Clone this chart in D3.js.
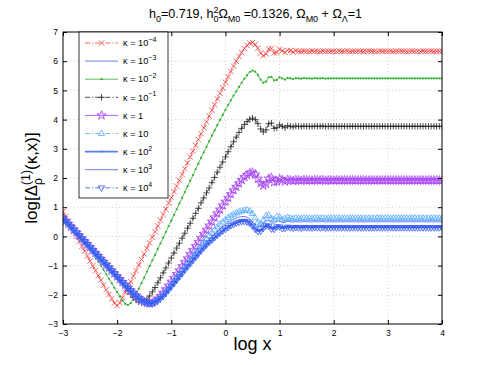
<!DOCTYPE html>
<html>
<head>
<meta charset="utf-8">
<script src="https://cdn.jsdelivr.net/npm/d3@7"></script>
<style>
  body { margin: 0; background: #fff; }
  svg { display: block; }
  text { font-family: "Liberation Sans", Arial, Helvetica, sans-serif; white-space: pre; }
</style>
</head>
<body>
<svg width="489" height="365"></svg>
<script>
// --- Data (log x grid, one value per grid point for every kappa) ---
const logX = [
  -3, -2.95, -2.9, -2.85, -2.8, -2.75, -2.7, -2.65, -2.6, -2.55, -2.5, -2.45, -2.4, -2.35, -2.3, -2.25, -2.2, -2.15, -2.1, -2.05,
  -2, -1.95, -1.9, -1.85, -1.8, -1.75, -1.7, -1.65, -1.6, -1.55, -1.5, -1.45, -1.4, -1.35, -1.3, -1.25, -1.2, -1.15, -1.1, -1.05,
  -1, -0.95, -0.9, -0.85, -0.8, -0.75, -0.7, -0.65, -0.6, -0.55, -0.5, -0.45, -0.4, -0.35, -0.3, -0.25, -0.2, -0.15, -0.1, -0.05,
  0, 0.05, 0.1, 0.15, 0.2, 0.25, 0.3, 0.35, 0.4, 0.45, 0.5, 0.55, 0.6, 0.65, 0.7, 0.75, 0.8, 0.85, 0.9, 0.95,
  1, 1.05, 1.1, 1.15, 1.2, 1.25, 1.3, 1.35, 1.4, 1.45, 1.5, 1.55, 1.6, 1.65, 1.7, 1.75, 1.8, 1.85, 1.9, 1.95,
  2, 2.05, 2.1, 2.15, 2.2, 2.25, 2.3, 2.35, 2.4, 2.45, 2.5, 2.55, 2.6, 2.65, 2.7, 2.75, 2.8, 2.85, 2.9, 2.95,
  3, 3.05, 3.1, 3.15, 3.2, 3.25, 3.3, 3.35, 3.4, 3.45, 3.5, 3.55, 3.6, 3.65, 3.7, 3.75, 3.8, 3.85, 3.9, 3.95, 4
];

const kappa1em4 = [
  0.85, 0.68, 0.51, 0.34, 0.17, 0.00, -0.17, -0.34, -0.50, -0.67, -0.84, -1.01, -1.17, -1.34, -1.50, -1.67, -1.83, -1.99, -2.14, -2.28,
  -2.37, -2.27, -2.10, -1.92, -1.73, -1.55, -1.36, -1.17, -0.98, -0.79, -0.60, -0.41, -0.22, -0.03, 0.16, 0.36, 0.55, 0.75, 0.94, 1.14,
  1.33, 1.53, 1.72, 1.92, 2.12, 2.32, 2.52, 2.72, 2.92, 3.12, 3.32, 3.52, 3.72, 3.92, 4.12, 4.32, 4.51, 4.71, 4.90, 5.09,
  5.28, 5.47, 5.65, 5.83, 6.00, 6.16, 6.30, 6.43, 6.54, 6.62, 6.64, 6.57, 6.44, 6.28, 6.19, 6.25, 6.42, 6.44, 6.28, 6.30,
  6.41, 6.36, 6.30, 6.37, 6.36, 6.31, 6.36, 6.34, 6.33, 6.35, 6.34, 6.33, 6.35, 6.34, 6.34, 6.33, 6.35, 6.34, 6.34, 6.34,
  6.34, 6.33, 6.35, 6.34, 6.34, 6.35, 6.33, 6.34, 6.34, 6.35,
  6.34, 6.33, 6.34, 6.35, 6.34, 6.34, 6.33, 6.35, 6.34, 6.34,
  6.34, 6.35, 6.33, 6.34, 6.34, 6.35, 6.34, 6.33, 6.34, 6.35,
  6.34, 6.34, 6.33, 6.35, 6.34, 6.34, 6.35, 6.33, 6.34, 6.34, 6.34
];

const kappa1em2 = [
  0.63, 0.53, 0.43, 0.33, 0.23, 0.13, 0.03, -0.09, -0.20, -0.32, -0.45, -0.58, -0.72, -0.86, -1.00, -1.15, -1.30, -1.45, -1.60, -1.76,
  -1.91, -2.06, -2.20, -2.31, -2.35, -2.28, -2.14, -1.97, -1.79, -1.60, -1.41, -1.21, -1.02, -0.82, -0.63, -0.43, -0.24, -0.04, 0.15, 0.35,
  0.54, 0.74, 0.93, 1.13, 1.32, 1.52, 1.71, 1.91, 2.10, 2.30, 2.49, 2.69, 2.88, 3.07, 3.26, 3.45, 3.63, 3.81, 3.99, 4.16,
  4.33, 4.50, 4.66, 4.82, 4.97, 5.12, 5.26, 5.40, 5.52, 5.63, 5.68, 5.64, 5.53, 5.37, 5.26, 5.30, 5.45, 5.46, 5.34, 5.36,
  5.45, 5.41, 5.37, 5.43, 5.41, 5.39, 5.42, 5.41, 5.40, 5.42, 5.41, 5.41, 5.40, 5.42, 5.41, 5.41, 5.42, 5.40, 5.41, 5.41,
  5.41, 5.41, 5.41, 5.41, 5.41, 5.41, 5.41, 5.41, 5.41, 5.41,
  5.41, 5.41, 5.41, 5.41, 5.41, 5.41, 5.41, 5.41, 5.41, 5.41,
  5.41, 5.41, 5.41, 5.41, 5.41, 5.41, 5.41, 5.41, 5.41, 5.41,
  5.41, 5.41, 5.41, 5.41, 5.41, 5.41, 5.41, 5.41, 5.41, 5.41, 5.41
];

const kappa1em1 = [
  0.63, 0.53, 0.43, 0.33, 0.23, 0.13, 0.03, -0.07, -0.17, -0.27, -0.37, -0.47, -0.57, -0.67, -0.77, -0.87, -0.97, -1.07, -1.17, -1.27,
  -1.37, -1.47, -1.60, -1.73, -1.86, -1.98, -2.09, -2.18, -2.25, -2.27, -2.24, -2.16, -2.04, -1.90, -1.75, -1.59, -1.42, -1.25, -1.08, -0.91,
  -0.74, -0.57, -0.40, -0.23, -0.06, 0.11, 0.28, 0.45, 0.62, 0.79, 0.96, 1.15, 1.32, 1.49, 1.66, 1.84, 2.02, 2.20, 2.37, 2.55,
  2.72, 2.90, 3.07, 3.24, 3.40, 3.56, 3.70, 3.83, 3.93, 4.01, 4.05, 4.00, 3.86, 3.68, 3.58, 3.65, 3.86, 3.88, 3.70, 3.72,
  3.82, 3.77, 3.72, 3.79, 3.77, 3.75, 3.78, 3.77, 3.76, 3.78, 3.77, 3.77, 3.76, 3.78, 3.77, 3.77, 3.78, 3.76, 3.77, 3.77,
  3.77, 3.77, 3.77, 3.77, 3.77, 3.77, 3.77, 3.77, 3.77, 3.77,
  3.77, 3.77, 3.77, 3.77, 3.77, 3.77, 3.77, 3.77, 3.77, 3.77,
  3.77, 3.77, 3.77, 3.77, 3.77, 3.77, 3.77, 3.77, 3.77, 3.77,
  3.77, 3.77, 3.77, 3.77, 3.77, 3.77, 3.77, 3.77, 3.77, 3.77, 3.77
];

const kappa1e0 = [
  0.63, 0.53, 0.43, 0.33, 0.23, 0.13, 0.03, -0.07, -0.17, -0.27, -0.37, -0.47, -0.57, -0.67, -0.77, -0.87, -0.97, -1.07, -1.17, -1.27,
  -1.37, -1.47, -1.57, -1.66, -1.76, -1.85, -1.94, -2.03, -2.11, -2.18, -2.24, -2.28, -2.30, -2.28, -2.22, -2.14, -2.04, -1.93, -1.81, -1.68,
  -1.55, -1.42, -1.29, -1.16, -1.02, -0.88, -0.75, -0.61, -0.47, -0.33, -0.19, -0.05, 0.09, 0.23, 0.37, 0.51, 0.65, 0.79, 0.92, 1.06,
  1.19, 1.32, 1.45, 1.58, 1.70, 1.82, 1.93, 2.03, 2.10, 2.17, 2.19, 2.12, 1.98, 1.82, 1.74, 1.80, 1.98, 2.01, 1.86, 1.88,
  1.97, 1.93, 1.88, 1.94, 1.92, 1.90, 1.93, 1.92, 1.91, 1.93, 1.92, 1.92, 1.91, 1.93, 1.92, 1.92, 1.93, 1.91, 1.92, 1.92,
  1.92, 1.92, 1.92, 1.92, 1.92, 1.92, 1.92, 1.92, 1.92, 1.92,
  1.92, 1.92, 1.92, 1.92, 1.92, 1.92, 1.92, 1.92, 1.92, 1.92,
  1.92, 1.92, 1.92, 1.92, 1.92, 1.92, 1.92, 1.92, 1.92, 1.92,
  1.92, 1.92, 1.92, 1.92, 1.92, 1.92, 1.92, 1.92, 1.92, 1.92, 1.92
];

const kappa1e1 = [
  0.63, 0.53, 0.43, 0.33, 0.23, 0.13, 0.03, -0.07, -0.17, -0.27, -0.37, -0.47, -0.57, -0.67, -0.77, -0.87, -0.97, -1.07, -1.17, -1.27,
  -1.37, -1.47, -1.57, -1.66, -1.76, -1.85, -1.94, -2.03, -2.11, -2.18, -2.24, -2.28, -2.30, -2.29, -2.25, -2.19, -2.10, -2.00, -1.89, -1.77,
  -1.65, -1.53, -1.41, -1.28, -1.16, -1.03, -0.91, -0.79, -0.67, -0.55, -0.43, -0.31, -0.20, -0.09, 0.02, 0.12, 0.22, 0.32, 0.41, 0.49,
  0.57, 0.64, 0.70, 0.75, 0.80, 0.84, 0.87, 0.89, 0.90, 0.87, 0.78, 0.63, 0.48, 0.43, 0.55, 0.70, 0.72, 0.60, 0.57, 0.68,
  0.66, 0.58, 0.61, 0.65, 0.62, 0.60, 0.63, 0.62, 0.61, 0.63, 0.62, 0.62, 0.61, 0.63, 0.62, 0.62, 0.63, 0.61, 0.62, 0.62,
  0.62, 0.62, 0.62, 0.62, 0.62, 0.62, 0.62, 0.62, 0.62, 0.62,
  0.62, 0.62, 0.62, 0.62, 0.62, 0.62, 0.62, 0.62, 0.62, 0.62,
  0.62, 0.62, 0.62, 0.62, 0.62, 0.62, 0.62, 0.62, 0.62, 0.62,
  0.62, 0.62, 0.62, 0.62, 0.62, 0.62, 0.62, 0.62, 0.62, 0.62, 0.62
];

const kappa1e2 = [
  0.63, 0.53, 0.43, 0.33, 0.23, 0.13, 0.03, -0.07, -0.17, -0.27, -0.37, -0.47, -0.57, -0.67, -0.77, -0.87, -0.97, -1.07, -1.17, -1.27,
  -1.37, -1.47, -1.57, -1.66, -1.76, -1.85, -1.94, -2.03, -2.11, -2.18, -2.24, -2.28, -2.30, -2.29, -2.25, -2.19, -2.12, -2.04, -1.94, -1.83,
  -1.72, -1.61, -1.50, -1.38, -1.27, -1.15, -1.04, -0.93, -0.82, -0.71, -0.60, -0.49, -0.39, -0.29, -0.20, -0.12, -0.04, 0.04, 0.12, 0.19,
  0.26, 0.32, 0.38, 0.43, 0.47, 0.50, 0.53, 0.54, 0.52, 0.47, 0.38, 0.27, 0.19, 0.20, 0.30, 0.39, 0.37, 0.28, 0.27, 0.35,
  0.35, 0.29, 0.30, 0.34, 0.32, 0.31, 0.33, 0.32, 0.31, 0.33, 0.32, 0.32, 0.31, 0.33, 0.32, 0.32, 0.33, 0.31, 0.32, 0.32,
  0.32, 0.32, 0.32, 0.32, 0.32, 0.32, 0.32, 0.32, 0.32, 0.32,
  0.32, 0.32, 0.32, 0.32, 0.32, 0.32, 0.32, 0.32, 0.32, 0.32,
  0.32, 0.32, 0.32, 0.32, 0.32, 0.32, 0.32, 0.32, 0.32, 0.32,
  0.32, 0.32, 0.32, 0.32, 0.32, 0.32, 0.32, 0.32, 0.32, 0.32, 0.32
];

const kappa1e3 = [
  0.63, 0.53, 0.43, 0.33, 0.23, 0.13, 0.03, -0.07, -0.17, -0.27, -0.37, -0.47, -0.57, -0.67, -0.77, -0.87, -0.97, -1.07, -1.17, -1.27,
  -1.37, -1.47, -1.57, -1.66, -1.76, -1.85, -1.94, -2.03, -2.11, -2.18, -2.24, -2.28, -2.30, -2.29, -2.25, -2.19, -2.12, -2.04, -1.94, -1.83,
  -1.72, -1.61, -1.50, -1.38, -1.27, -1.13, -1.00, -0.88, -0.77, -0.66, -0.55, -0.44, -0.33, -0.22, -0.12, -0.02, 0.08, 0.17, 0.26, 0.34,
  0.41, 0.48, 0.54, 0.59, 0.63, 0.66, 0.68, 0.68, 0.66, 0.60, 0.50, 0.38, 0.32, 0.36, 0.47, 0.56, 0.55, 0.46, 0.45, 0.53,
  0.53, 0.47, 0.48, 0.52, 0.50, 0.49, 0.51, 0.50, 0.49, 0.51, 0.50, 0.50, 0.49, 0.51, 0.50, 0.50, 0.51, 0.49, 0.50, 0.50,
  0.50, 0.50, 0.50, 0.50, 0.50, 0.50, 0.50, 0.50, 0.50, 0.50,
  0.50, 0.50, 0.50, 0.50, 0.50, 0.50, 0.50, 0.50, 0.50, 0.50,
  0.50, 0.50, 0.50, 0.50, 0.50, 0.50, 0.50, 0.50, 0.50, 0.50,
  0.50, 0.50, 0.50, 0.50, 0.50, 0.50, 0.50, 0.50, 0.50, 0.50, 0.50
];

const kappa1e4 = [
  0.63, 0.53, 0.43, 0.33, 0.23, 0.13, 0.03, -0.07, -0.17, -0.27, -0.37, -0.47, -0.57, -0.67, -0.77, -0.87, -0.97, -1.07, -1.17, -1.27,
  -1.37, -1.47, -1.57, -1.66, -1.76, -1.85, -1.94, -2.03, -2.11, -2.18, -2.24, -2.28, -2.30, -2.29, -2.25, -2.19, -2.12, -2.04, -1.94, -1.83,
  -1.72, -1.61, -1.50, -1.38, -1.27, -1.15, -1.04, -0.93, -0.82, -0.71, -0.60, -0.49, -0.39, -0.29, -0.20, -0.12, -0.04, 0.04, 0.12, 0.19,
  0.25, 0.31, 0.37, 0.42, 0.46, 0.49, 0.51, 0.52, 0.50, 0.45, 0.36, 0.25, 0.17, 0.18, 0.28, 0.37, 0.35, 0.26, 0.25, 0.33,
  0.33, 0.27, 0.28, 0.32, 0.30, 0.29, 0.31, 0.30, 0.29, 0.31, 0.30, 0.30, 0.29, 0.31, 0.30, 0.30, 0.31, 0.29, 0.30, 0.30,
  0.30, 0.30, 0.30, 0.30, 0.30, 0.30, 0.30, 0.30, 0.30, 0.30,
  0.30, 0.30, 0.30, 0.30, 0.30, 0.30, 0.30, 0.30, 0.30, 0.30,
  0.30, 0.30, 0.30, 0.30, 0.30, 0.30, 0.30, 0.30, 0.30, 0.30,
  0.30, 0.30, 0.30, 0.30, 0.30, 0.30, 0.30, 0.30, 0.30, 0.30, 0.30
];

// kappa = 1e-3 is not visible in the figure: it sits under the large-kappa band
const kappa1em3 = kappa1e4;

const xTicks = [-3, -2, -1, 0, 1, 2, 3, 4];
const yTicks = [-3, -2, -1, 0, 1, 2, 3, 4, 5, 6, 7];

// legend exponent of each kappa ("" -> plain text)
const series = [
  { base: "10", exp: "\u22124", values: kappa1em4, color: "#f23a3a", dash: "5,2,1.2,2", marker: "x" },
  { base: "10", exp: "\u22123", values: kappa1em3, color: "#3f5fe8", dash: null, marker: null },
  { base: "10", exp: "\u22122", values: kappa1em2, color: "#2fae2f", dash: null, marker: "dot" },
  { base: "10", exp: "\u22121", values: kappa1em1, color: "#222222", dash: "5,2,1.2,2", marker: "plus" },
  { base: "1", exp: "", values: kappa1e0, color: "#a33cf5", dash: null, marker: "star" },
  { base: "10", exp: "", values: kappa1e1, color: "#55aaff", dash: "5,2,1.2,2", marker: "up" },
  { base: "10", exp: "2", values: kappa1e2, color: "#5a7cf5", dash: null, marker: "dot", width: 1.8 },
  { base: "10", exp: "3", values: kappa1e3, color: "#3f5fe8", dash: null, marker: null },
  { base: "10", exp: "4", values: kappa1e4, color: "#2f55f0", dash: "5,2,1.2,2", marker: "down" }
];

// --- Setup ---
const svg = d3.select("svg");
const x = d3.scaleLinear().domain([-3, 4]).range([63, 442]);
const y = d3.scaleLinear().domain([-3, 7]).range([324, 32]);
const fmt = d => (d < 0 ? "\u2212" + Math.abs(d) : String(d));

svg.append("rect").attr("width", 489).attr("height", 365).attr("fill", "#fff");

svg.append("defs").append("clipPath").attr("id", "plot-clip")
    .append("rect")
    .attr("x", x(-3)).attr("y", y(7))
    .attr("width", x(4) - x(-3)).attr("height", y(-3) - y(7));

// --- Grid ---
const grid = svg.append("g").attr("stroke", "#b8b8b8").attr("stroke-width", 0.7).attr("stroke-dasharray", "1,2.5");
grid.selectAll("line.gx").data(xTicks.slice(1, -1)).enter().append("line")
    .attr("x1", d => x(d)).attr("x2", d => x(d)).attr("y1", y(-3)).attr("y2", y(7));
grid.selectAll("line.gy").data(yTicks.slice(1, -1)).enter().append("line")
    .attr("x1", x(-3)).attr("x2", x(4)).attr("y1", d => y(d)).attr("y2", d => y(d));

// --- Markers ---
function markerPath(type) {
    switch (type) {
        case "x": return "M-2.7,-2.7L2.7,2.7M-2.7,2.7L2.7,-2.7";
        case "plus": return "M-3.2,0L3.2,0M0,-3.2L0,3.2";
        case "up": return "M0,-3.6L3.2,1.9L-3.2,1.9Z";
        case "down": return "M0,3.6L3.2,-1.9L-3.2,-1.9Z";
        case "star": return d3.symbol(d3.symbolStar, 26)();
        default: return null;
    }
}

function drawMarker(g, type, color) {
    if (type === "dot") {
        g.append("circle").attr("r", 1.1).attr("fill", color);
    } else if (type) {
        g.append("path").attr("d", markerPath(type))
            .attr("fill", "none").attr("stroke", color).attr("stroke-width", 0.8);
    }
}

// --- Curves ---
const line = d3.line().x((d, i) => x(logX[i])).y(d => y(d));
const plot = svg.append("g").attr("clip-path", "url(#plot-clip)");

series.forEach(s => {
    const pts = s.values.slice(0, logX.length);
    plot.append("path")
        .attr("d", line(pts))
        .attr("fill", "none")
        .attr("stroke", s.color)
        .attr("stroke-width", s.width || 0.8)
        .attr("stroke-dasharray", s.dash);
    if (s.marker) {
        plot.append("g").selectAll("g")
            .data(pts)
            .enter().append("g")
            .attr("transform", (d, i) => `translate(${x(logX[i])},${y(d)})`)
            .each(function () { drawMarker(d3.select(this), s.marker, s.color); });
    }
});

// --- Axes ---
const axisFont = g => g.selectAll("text").attr("font-size", "8.5px").attr("fill", "#000");
svg.append("g").attr("transform", `translate(0,${y(-3)})`)
    .call(d3.axisBottom(x).tickValues(xTicks).tickSize(-4).tickPadding(6).tickFormat(fmt))
    .call(g => g.select(".domain").remove())
    .call(axisFont);
svg.append("g").attr("transform", `translate(${x(-3)},0)`)
    .call(d3.axisLeft(y).tickValues(yTicks).tickSize(-4).tickPadding(5).tickFormat(fmt))
    .call(g => g.select(".domain").remove())
    .call(axisFont);
svg.append("g").attr("transform", `translate(0,${y(7)})`)
    .call(d3.axisTop(x).tickValues(xTicks).tickSize(-4).tickFormat(""))
    .call(g => g.select(".domain").remove());
svg.append("g").attr("transform", `translate(${x(4)},0)`)
    .call(d3.axisRight(y).tickValues(yTicks).tickSize(-4).tickFormat(""))
    .call(g => g.select(".domain").remove());

svg.append("rect")
    .attr("x", x(-3)).attr("y", y(7))
    .attr("width", x(4) - x(-3)).attr("height", y(-3) - y(7))
    .attr("fill", "none").attr("stroke", "#000").attr("stroke-width", 1);

// --- Rich text helper (sub/superscripts, stacked pairs) ---
function richText(parent, parts, size) {
    const g = parent.append("g");
    let cursor = 0, lastX = 0;
    parts.forEach(p => {
        const fs = p.sub || p.sup ? size * 0.72 : size;
        const t = g.append("text")
            .attr("font-size", fs + "px")
            .attr("y", p.sub ? size * 0.32 : p.sup ? -size * 0.42 : 0)
            .text(p.t.replace(/ /g, "\u00a0"));
        const w = t.node().getComputedTextLength();
        if (p.stack) {
            t.attr("x", lastX);
            cursor = Math.max(cursor, lastX + w);
        } else {
            t.attr("x", cursor);
            lastX = cursor;
            cursor += w;
        }
    });
    return { g, width: cursor };
}

// --- Title ---
const title = richText(svg, [
    { t: "h" }, { t: "0", sub: true }, { t: "=0.719, h" },
    { t: "2", sup: true }, { t: "0", sub: true, stack: true },
    { t: "\u03a9" }, { t: "M0", sub: true }, { t: " =0.1326, \u03a9" },
    { t: "M0", sub: true }, { t: " + \u03a9" }, { t: "\u039b", sub: true }, { t: "=1" }
], 12.5);
title.g.attr("transform", `translate(${(x(-3) + x(4)) / 2 + 3 - title.width / 2},18)`);

// --- Axis labels ---
svg.append("text")
    .attr("x", (x(-3) + x(4)) / 2).attr("y", 350)
    .attr("text-anchor", "middle").attr("font-size", "18px")
    .text("log x");

const ylab = richText(svg, [
    { t: "log[\u0394" }, { t: "(1)", sup: true }, { t: "\u03c1", sub: true, stack: true }, { t: "(\u03ba,x)]" }
], 17);
ylab.g.attr("transform", `translate(37,${(y(-3) + y(7)) / 2}) rotate(-90) translate(${-ylab.width / 2},0)`);

// --- Legend ---
const legend = svg.append("g");
legend.append("rect")
    .attr("x", 79).attr("y", 32).attr("width", 89).attr("height", 166)
    .attr("fill", "#fff").attr("stroke", "#000").attr("stroke-width", 0.8);

series.forEach((s, i) => {
    const ly = 43 + i * 18.1;
    legend.append("line")
        .attr("x1", 85).attr("x2", 118).attr("y1", ly).attr("y2", ly)
        .attr("stroke", s.color).attr("stroke-width", s.width || 0.8)
        .attr("stroke-dasharray", s.dash);
    if (s.marker) {
        const m = legend.append("g").attr("transform", `translate(101.5,${ly})`);
        drawMarker(m, s.marker, s.color);
    }
    const t = legend.append("text")
        .attr("x", 123).attr("y", ly + 3.2)
        .attr("font-size", "9.2px")
        .text("\u03ba = " + s.base);
    if (s.exp) {
        t.append("tspan").attr("dy", -4.2).attr("font-size", "7px").text(s.exp);
    }
});
</script>
</body>
</html>
